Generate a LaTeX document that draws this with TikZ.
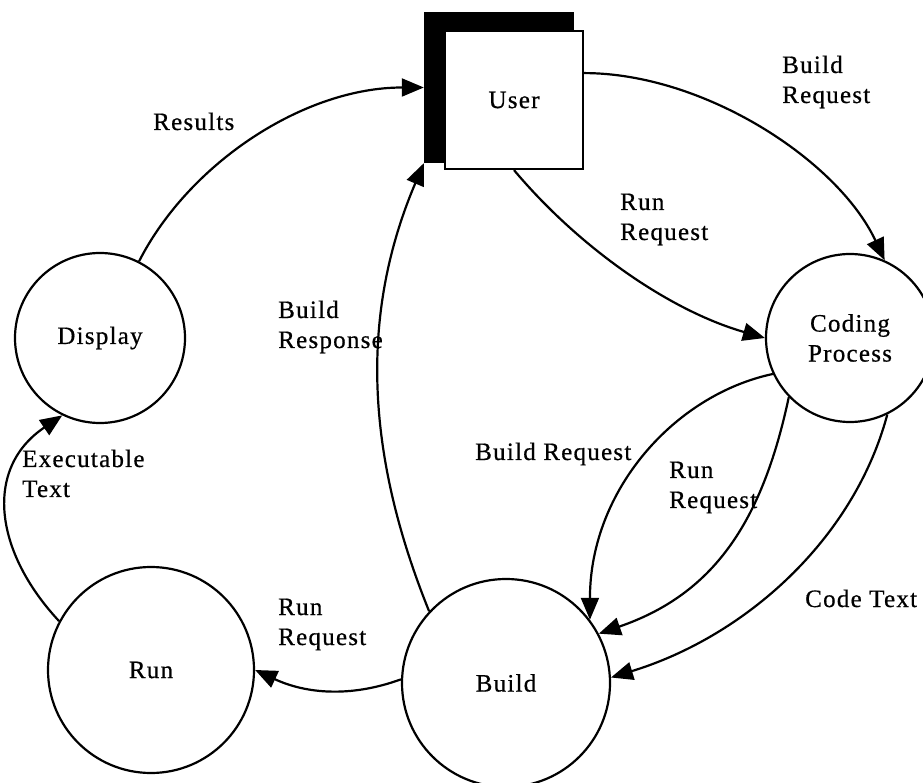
\documentclass[tikz,border=0pt]{standalone}
\usepackage{fontspec}
\setmainfont{Liberation Serif}[LetterSpace=5, FakeBold=0.6]
\usetikzlibrary{arrows.meta}
\begin{document}
\begin{tikzpicture}[x=1pt,y=1pt,
  every node/.style={font=\fontsize{25}{30}\selectfont},
  proc/.style={circle, draw, line width=2.2pt, inner sep=0pt},
  flow/.style={line width=2.2pt, -{Triangle[length=22pt,width=18pt]}},
  lbl/.style={anchor=base west, align=left, inner sep=0pt}]
\useasboundingbox (0,0) rectangle (923,782);

% external entity: the user, with its heavy shadow
\node[fill=black, minimum width=150, minimum height=151, inner sep=0pt] (shadow) at (499,694.5) {};
\node[draw, fill=white, line width=2.2pt, minimum size=138, inner sep=0pt] (user) at (514,682) {User};

% processes
\node[proc, minimum size=170] (display) at (100,444) {Display};
\node[proc, minimum size=168, align=center] (coding) at (850,444) {Coding\\Process};
\node[proc, minimum size=206] (run) at (151,112) {Run};
\node[proc, minimum size=208] (build) at (506,99) {Build};

% data flows
\draw[flow] (display.63) .. controls +(63:110) and +(180:120) .. (shadow.west);
\draw[flow] (user.21) .. controls +(0:120) and +(115:110) .. (coding.66);
\draw[flow] (user.south) .. controls +(-50:100) and +(164:100) .. (coding.180);
\draw[flow] (build.137) .. controls +(112:175) and +(247:160) .. (shadow.south west);
\draw[flow] (coding.205) .. controls +(192:100) and +(90:130) .. (build.37);
\draw[flow] (coding.224) .. controls +(258:130) and +(19:120) .. (build.28);
\draw[flow] (coding.296) .. controls +(255:130) and +(17:140) .. (build.3);
\draw[flow] (build.178) .. controls +(200:55) and +(335:55) .. (run.east);
\draw[flow] (run.152) .. controls +(133:95) and +(214:95) .. (display.244);

% flow labels
\node[lbl] (lresults) at (153,652) {Results};
\node[lbl] (lbuildreq1) at (782,679) {Build\\Request};
\node[lbl] (lrunreq1) at (620,542) {Run\\Request};
\node[lbl] (lbuildresp) at (278,434) {Build\\Response};
\node[lbl] (lbuildreq2) at (475,322) {Build Request};
\node[lbl] (lrunreq2) at (669,274) {Run\\Request};
\node[lbl] (lcode) at (805,175) {Code Text};
\node[lbl] (lrunreq3) at (278,137) {Run\\Request};
\node[lbl] (lexec) at (22,285) {Executable\\Text};
\end{tikzpicture}
\end{document}
